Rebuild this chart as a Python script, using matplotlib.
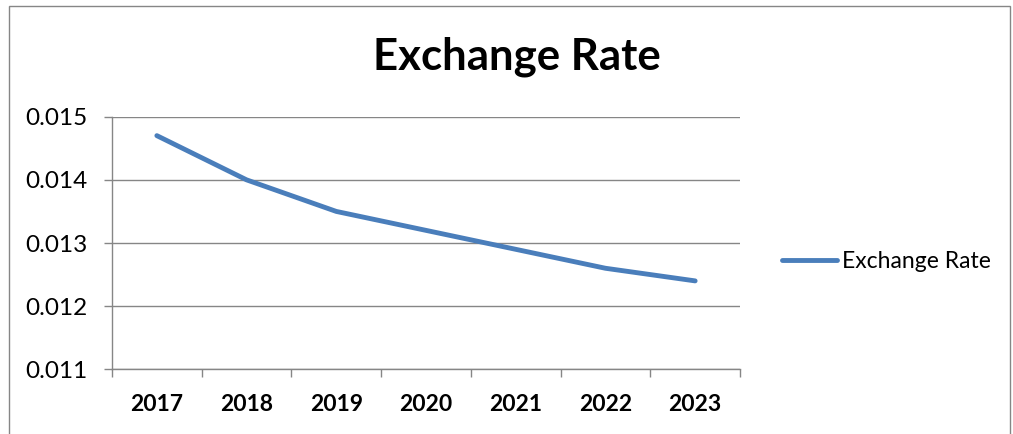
import numpy as np
import matplotlib
matplotlib.use("Agg")
import matplotlib.pyplot as plt
from matplotlib.patches import Rectangle

plt.rcParams["font.family"] = ["Lato", "DejaVu Sans"]

years = ["2017", "2018", "2019", "2020", "2021", "2022", "2023"]
rate = [0.0147, 0.0140, 0.0135, 0.0132, 0.0129, 0.0126, 0.0124]
y_ticks = [0.011, 0.012, 0.013, 0.014, 0.015]

LINE = "#4A7EBB"
GRID = "#868686"

W, H = 1013, 434
fig = plt.figure(figsize=(W / 100, H / 100), dpi=100)
ax = fig.add_axes([112 / W, 1 - 369.3 / H, (740 - 112) / W, (369.3 - 116.7) / H])

x = np.arange(len(years))
line, = ax.plot(x, rate, color=LINE, lw=3.5, solid_capstyle="round",
                solid_joinstyle="round", label="Exchange Rate")

ax.set_xlim(-0.5, len(years) - 0.5)
ax.set_ylim(0.011, 0.015)
ax.set_yticks(y_ticks)
ax.set_yticklabels([f"{v:.3f}" for v in y_ticks], fontsize=17.5)
ax.set_xticks(x)
ax.set_xticklabels(years, fontsize=16.5, fontweight="bold")
ax.set_xticks(np.arange(len(years) + 1) - 0.5, minor=True)
ax.tick_params(axis="x", which="major", length=0, pad=18)
ax.tick_params(axis="x", which="minor", length=5.5, color=GRID, width=1)
ax.tick_params(axis="y", length=5.5, color=GRID, width=1, pad=12)

ax.grid(axis="y", color=GRID, lw=1)
ax.set_axisbelow(True)
for s in ["top", "right"]:
    ax.spines[s].set_visible(False)
for s in ["left", "bottom"]:
    ax.spines[s].set_color(GRID)
    ax.spines[s].set_linewidth(1)

fig.text(517 / W, 1 - 57 / H, "Exchange Rate", fontsize=31.5, fontweight="bold",
         ha="center", va="center")

fig.legend(handles=[line], loc="center left", bbox_to_anchor=(782 / W, 1 - 262 / H),
           frameon=False, fontsize=16.5, handlelength=2.4, handletextpad=0.2,
           borderpad=0, borderaxespad=0)

# chart area border (cut off at the bottom)
fig.add_artist(Rectangle((8.5 / W, -0.2), (1009.5 - 8.5) / W, 1.2 - 5.5 / H,
                         transform=fig.transFigure, fill=False,
                         edgecolor=GRID, lw=1))

fig.savefig("out.png", dpi=100)
